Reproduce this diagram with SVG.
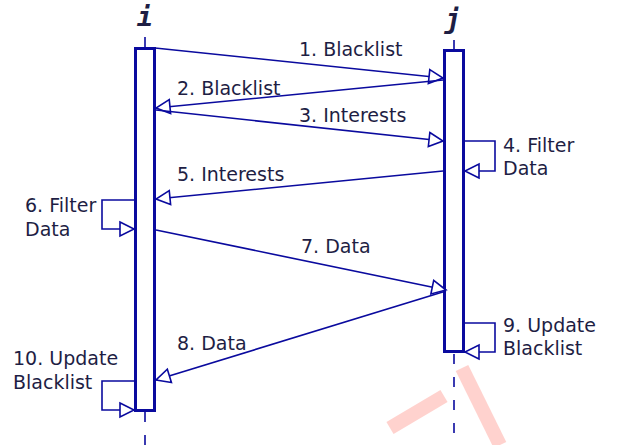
<svg xmlns="http://www.w3.org/2000/svg" width="618" height="445" viewBox="0 0 618 445">
  <style>
    .life { fill: #ffffff; stroke: #0a0a9e; stroke-width: 3; }
    .dash { stroke: #0a0a9e; stroke-width: 1.6; stroke-dasharray: 10 13; fill: none; }
    .msg { stroke: #0a0a9e; stroke-width: 1.6; fill: none; marker-end: url(#open); }
    .lbl { font-family: "DejaVu Sans", "Liberation Sans", sans-serif; font-size: 19px; fill: #1e1e44; }
    .head { font-family: "DejaVu Sans Mono", "Liberation Mono", monospace; font-weight: bold; font-style: italic; font-size: 27px; fill: #1e1e44; text-anchor: middle; }
    .wm { stroke: #ff6b5e; stroke-opacity: 0.3; stroke-width: 14; fill: none; stroke-linecap: butt; }
  </style>
  <defs>
    <marker id="open" markerUnits="userSpaceOnUse" markerWidth="18" markerHeight="16" refX="15" refY="7" orient="auto" overflow="visible">
      <path d="M1,0 L15,7 L1,14 Z" fill="#ffffff" stroke="#0a0a9e" stroke-width="1.6"/>
    </marker>
  </defs>

  <!-- faint stamp strokes near the bottom -->
  <g id="stamp">
    <path class="wm" d="M390,428 L444,396"/>
    <path class="wm" d="M462,368 L500,445"/>
  </g>

  <!-- participant i -->
  <g id="node-i">
    <text class="head" x="145" y="26">i</text>
    <line x1="145" y1="37" x2="145" y2="47" stroke="#0a0a9e" stroke-width="1.6"/>
    <line class="dash" x1="145" y1="412" x2="145" y2="445"/>
    <rect class="life" x="135.5" y="48.5" width="19" height="362"/>
  </g>

  <!-- participant j -->
  <g id="node-j">
    <text class="head" x="453" y="28">j</text>
    <line x1="454" y1="40" x2="454" y2="49" stroke="#0a0a9e" stroke-width="1.6"/>
    <line class="dash" x1="454" y1="354" x2="454" y2="445"/>
    <rect class="life" x="444.5" y="50.5" width="19" height="301"/>
  </g>

  <!-- messages -->
  <g id="connectors">
    <path class="msg" d="M155,48 L443,78"/>
    <path class="msg" d="M443,80 L156,108"/>
    <path class="msg" d="M156,110 L443,141"/>
    <path class="msg" d="M465,141 L495,141 L495,171 L465,171"/>
    <path class="msg" d="M443,171 L156,199"/>
    <path class="msg" d="M134,200 L102,200 L102,229 L134,229"/>
    <path class="msg" d="M156,230 L446,290"/>
    <path class="msg" d="M446,291 L156,380"/>
    <path class="msg" d="M465,323 L495,323 L495,352 L465,352"/>
    <path class="msg" d="M134,381 L102,381 L102,410 L134,410"/>
  </g>

  <!-- message labels -->
  <g id="labels">
    <text class="lbl" x="299" y="56">1. Blacklist</text>
    <text class="lbl" x="177" y="95">2. Blacklist</text>
    <text class="lbl" x="299" y="122">3. Interests</text>
    <text class="lbl" x="503" y="152">4. Filter</text>
    <text class="lbl" x="503" y="175">Data</text>
    <text class="lbl" x="177" y="181">5. Interests</text>
    <text class="lbl" x="25" y="212">6. Filter</text>
    <text class="lbl" x="25" y="236">Data</text>
    <text class="lbl" x="301" y="253">7. Data</text>
    <text class="lbl" x="177" y="350">8. Data</text>
    <text class="lbl" x="503" y="332">9. Update</text>
    <text class="lbl" x="503" y="355">Blacklist</text>
    <text class="lbl" x="13" y="365">10. Update</text>
    <text class="lbl" x="13" y="389">Blacklist</text>
  </g>
</svg>
